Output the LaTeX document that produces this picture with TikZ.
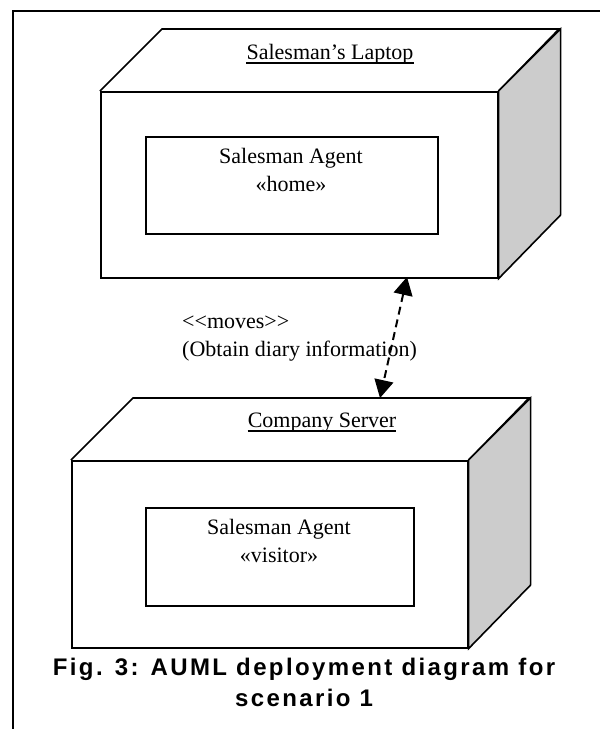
\documentclass[tikz,border=0pt]{standalone}
\usepackage{fontspec}
\setmainfont{Liberation Serif}
\newfontfamily\capfont[LetterSpace=10]{Liberation Sans}
\usetikzlibrary{arrows.meta}

\begin{document}
\begin{tikzpicture}[x=1pt, y=-1pt,
  edge/.style={line width=1.6pt, line join=miter},
  sideface/.style={edge, draw, fill=black!20},
  frontface/.style={draw, line width=1.6pt, fill=white, inner sep=0pt, anchor=north west},
  agentbox/.style={draw, line width=1.6pt, inner sep=0pt, anchor=north west},
  serif/.style={inner sep=0pt, align=center, font=\fontsize{22}{28}\selectfont},
  nodetitle/.style={serif, anchor=base},
  move/.style={line width=2pt, dash pattern=on 8pt off 5pt,
    {Triangle[length=18pt, width=19pt]}-{Triangle[length=18pt, width=19pt]}},
]
\useasboundingbox (0,0) rectangle (600,729);

% page frame
\draw[line width=1.5pt] (13,729) -- (13,11) -- (600,11);

% --- node: Salesman's Laptop ---
\node[frontface, minimum width=397pt, minimum height=186pt] (laptop) at (100,91) {};
\draw[edge] (laptop.north west) -- ++(62,-62) -- ++(397,0) -- (laptop.north east);
\draw[sideface] (laptop.north east) -- ++(62,-62) -- ++(0,186) -- (laptop.south east) -- cycle;
\node[nodetitle] (laptoptitle) at (330,59) {Salesman’s Laptop};
\draw[line width=1.3pt] ([yshift=-4pt]laptoptitle.base west) -- ([yshift=-4pt]laptoptitle.base east);

% multi-line texts are placed by the baseline of their last line
\node[agentbox, minimum width=292pt, minimum height=97pt] (home) at (145,136) {};
\node[nodetitle] (hometext) at (291,191) {Salesman Agent\\«home»};

% --- node: Company Server ---
\node[frontface, minimum width=396pt, minimum height=187pt] (server) at (71,460) {};
\draw[edge] (server.north west) -- ++(62,-62) -- ++(396,0) -- (server.north east);
\draw[sideface] (server.north east) -- ++(62,-62) -- ++(0,187) -- (server.south east) -- cycle;
\node[nodetitle] (servertitle) at (322,427) {Company Server};
\draw[line width=1.3pt] ([yshift=-4pt]servertitle.base west) -- ([yshift=-4pt]servertitle.base east);

\node[agentbox, minimum width=268pt, minimum height=98pt] (visitor) at (145,507) {};
\node[nodetitle] (visitortext) at (279,562) {Salesman Agent\\«visitor»};

% --- migration link ---
\coordinate (upper) at (407,277);
\coordinate (lower) at (380,398);
\draw[move] (upper) -- (lower);
\node[serif, align=left, anchor=base west] (movelabel) at (182,356)
  {<\kern0pt<moves>\kern0pt>\\(Obtain diary information)};

% --- caption ---
\node[inner sep=0pt, align=center, anchor=base,
  font=\capfont\bfseries\fontsize{24}{31}\selectfont] (caption) at (304,706)
  {Fig. 3: AUML deployment diagram for\\scenario 1};
\end{tikzpicture}
\end{document}
